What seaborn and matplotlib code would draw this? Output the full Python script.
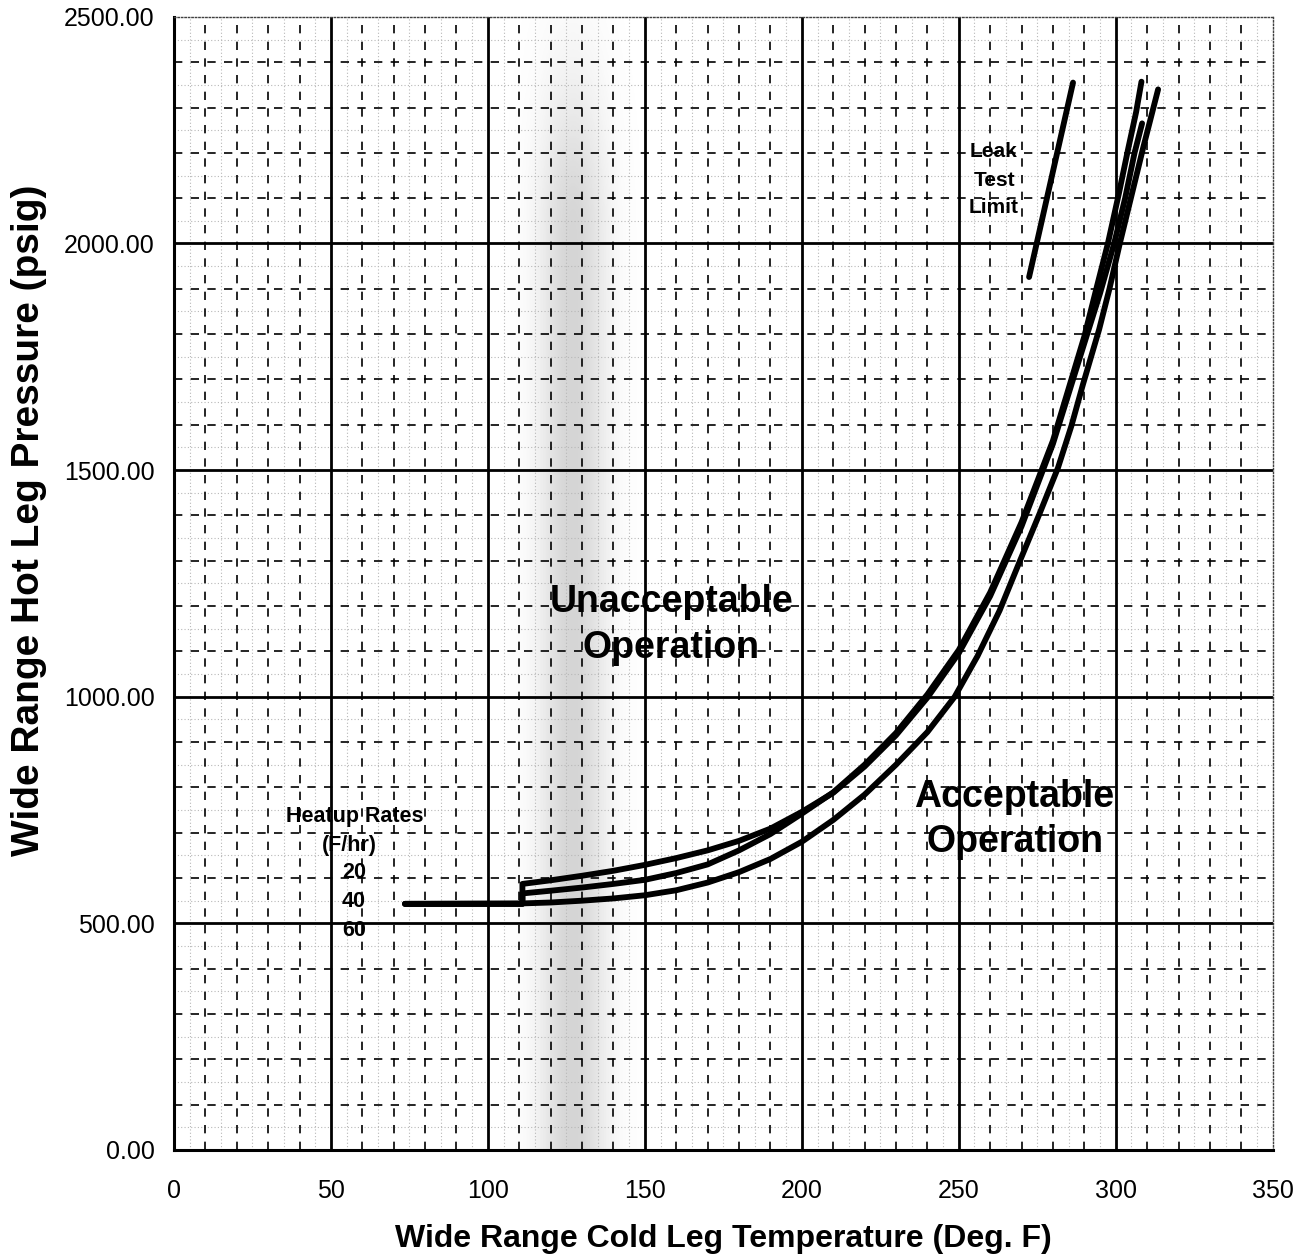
import numpy as np
import pandas as pd
import matplotlib
matplotlib.use("Agg")
import matplotlib.pyplot as plt
import seaborn as sns

# Heatup limit curves: cold leg temperature (deg F) vs hot leg pressure (psig)
temp_20 = [73.6, 111.0, 111.0, 120, 130, 140, 150, 160, 170, 180, 190, 200, 210, 220, 230,
           240, 250, 260, 270, 280, 290, 295, 299.5, 303.0, 306.0, 308.4]
pres_20 = [543, 543, 587, 595, 605, 616, 629, 644, 661, 682, 709, 746, 788, 846, 915,
           998, 1096, 1222, 1376, 1558, 1780, 1890, 2000, 2100, 2200, 2265]

temp_40 = [73.6, 111.0, 111.0, 120, 130, 140, 150, 160, 170, 180, 190, 200, 210, 220, 230,
           240, 250, 260, 270, 280, 290, 294.0, 297.5, 301.0, 304.0, 306.5, 308.2]
pres_40 = [543, 543, 566, 572, 579, 587, 596, 611, 630, 661, 697, 742, 789, 850, 920,
           1005, 1103, 1230, 1385, 1565, 1795, 1905, 2000, 2110, 2210, 2290, 2357]

temp_60 = [73.6, 111.0, 120, 130, 140, 150, 160, 170, 180, 190, 200, 210, 220, 230, 240,
           248.7, 256, 263, 269.5, 275.8, 281.6, 285.9, 289.6, 294.7, 298.0, 301.3, 305.0,
           308.7, 313.5]
pres_60 = [543, 544, 546, 550, 555, 562, 573, 590, 613, 642, 680, 728, 784, 850, 922,
           1000, 1090, 1190, 1300, 1405, 1505, 1598, 1690, 1810, 1900, 2000, 2105,
           2210, 2340]

# Leak test limit
temp_leak = [272.4, 286.4]
pres_leak = [1926, 2355]

heatup_rates = ["20", "40", "60"]
x_ticks = [0, 50, 100, 150, 200, 250, 300, 350]
y_ticks = [0, 500, 1000, 1500, 2000, 2500]

frames = []
for rate, t, p in zip(heatup_rates, [temp_20, temp_40, temp_60], [pres_20, pres_40, pres_60]):
    frames.append(pd.DataFrame({"temp": t, "pres": p, "rate": rate}))
curves = pd.concat(frames, ignore_index=True)
leak = pd.DataFrame({"temp": temp_leak, "pres": pres_leak})

sns.set_theme(style="white")
plt.rcParams["font.family"] = ["Liberation Sans", "DejaVu Sans"]
plt.rcParams["text.color"] = "black"
plt.rcParams["axes.labelcolor"] = "black"

fig = plt.figure(figsize=(13.08, 12.59), dpi=100)
ax = fig.add_axes([0.133, 0.0866, 0.840, 0.9000])
ax.set_xlim(0, 350)
ax.set_ylim(0, 2500)

# soft grey band behind the chart
xs = np.linspace(0, 350, 700)
ys = np.linspace(0, 2500, 500)
gx = np.exp(-0.5 * ((xs - 127) / 7.5) ** 2)
gy = np.where(ys > 2000, np.exp(-((ys - 2000) / 350.0) ** 2), 1.0)
rgba = np.zeros((len(ys), len(xs), 4))
rgba[..., :3] = 0.45
rgba[..., 3] = 0.30 * np.outer(gy, gx)
ax.imshow(rgba, extent=[0, 350, 0, 2500], origin="lower", aspect="auto", zorder=0.5)

# fine dotted grid
for xv in np.arange(5, 350, 10):
    ax.axvline(xv, color="0.72", lw=0.8, ls=(0, (1, 2)), zorder=1)
for yv in np.arange(50, 2500, 100):
    ax.axhline(yv, color="0.72", lw=0.8, ls=(0, (1, 2)), zorder=1)
# dashed minor grid
for xv in np.arange(10, 350, 10):
    if xv % 50:
        ax.axvline(xv, color="black", lw=1.2, ls=(0, (5, 5)), zorder=1.5)
for yv in np.arange(100, 2500, 100):
    if yv % 500:
        ax.axhline(yv, color="black", lw=1.2, ls=(0, (5, 5)), zorder=1.5)
# solid major grid
for xv in x_ticks[1:-1]:
    ax.axvline(xv, color="black", lw=2.0, zorder=2)
for yv in y_ticks[1:-1]:
    ax.axhline(yv, color="black", lw=2.0, zorder=2)

for rate in heatup_rates:
    sub = curves[curves["rate"] == rate]
    sns.lineplot(data=sub, x="temp", y="pres", sort=False, estimator=None, color="black",
                 lw=4.2, ax=ax, zorder=5, solid_capstyle="round", solid_joinstyle="round")
sns.lineplot(data=leak, x="temp", y="pres", sort=False, estimator=None, color="black",
             lw=4.2, ax=ax, zorder=5, solid_capstyle="round")

big = dict(ha="center", va="center", fontsize=27, fontweight="bold", zorder=6)
ax.text(158.5, 1209, "Unacceptable", **big)
ax.text(158.5, 1108, "Operation", **big)
ax.text(267.5, 779, "Acceptable", **big)
ax.text(268.0, 680, "Operation", **big)

small = dict(ha="center", va="center", fontsize=15, fontweight="bold", zorder=6)
ax.text(261.2, 2202, "Leak", **small)
ax.text(261.5, 2138, "Test", **small)
ax.text(261.2, 2079, "Limit", **small)

rates = dict(ha="center", va="center", fontsize=15.5, fontweight="bold", zorder=6)
ax.text(57.5, 735, "Heatup Rates", **rates)
ax.text(55.8, 672, "(F/hr)", **rates)
for lbl, yv in zip(heatup_rates, [613, 549, 485]):
    ax.text(57.3, yv, lbl, **rates)

ax.set_xticks(x_ticks)
ax.set_xticklabels([str(v) for v in x_ticks])
ax.set_yticks(y_ticks)
ax.set_yticklabels([f"{v:.2f}" for v in y_ticks])
ax.tick_params(axis="both", direction="out", length=4, width=1, color="black",
               labelsize=18, labelcolor="black")
ax.tick_params(axis="x", pad=17)
ax.tick_params(axis="y", pad=10)

ax.set_xlabel("Wide Range Cold Leg Temperature (Deg. F)", fontsize=23, fontweight="bold", labelpad=15)
ax.set_ylabel("Wide Range Hot Leg Pressure (psig)", fontsize=28, fontweight="bold")
ax.yaxis.set_label_coords(-0.116, 0.556)

for side in ["left", "bottom"]:
    ax.spines[side].set_color("black")
    ax.spines[side].set_linewidth(2.2)
for side in ["top", "right"]:
    ax.spines[side].set_color("0.25")
    ax.spines[side].set_linewidth(1.0)
    ax.spines[side].set_linestyle((0, (1, 1.5)))
ax.set_facecolor("white")

fig.savefig("out.png", dpi=100, facecolor="white")
